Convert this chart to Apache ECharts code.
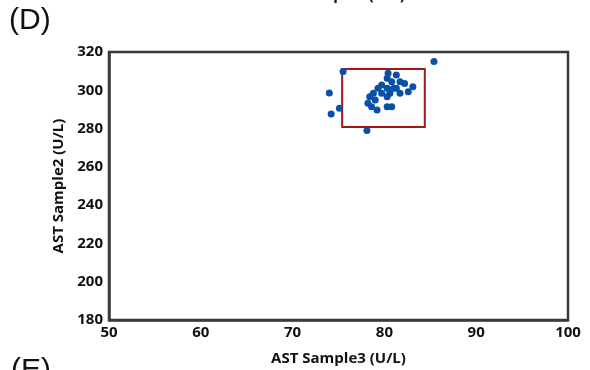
<!DOCTYPE html>
<html>
<head>
<meta charset="utf-8">
<script src="https://cdn.jsdelivr.net/npm/echarts@6/dist/echarts.min.js"></script>
<style>
  html, body { margin: 0; padding: 0; background: #fff; }
  #chart { width: 590px; height: 370px; }
</style>
</head>
<body>
<div id="chart"></div>
<script>
// AST values, sample3 (x) vs sample2 (y)
const sample3 = [85.4, 75.5, 74.0, 74.2, 75.1, 78.1,
  80.4, 81.3, 80.3, 80.8, 81.7, 82.2, 83.1, 82.6, 79.7, 79.3, 80.3, 81.0, 81.7,
  78.8, 78.4, 79.7, 79.0, 80.3, 80.6, 78.2, 78.6, 79.2, 80.3, 80.8, 81.3];
const sample2 = [315.0, 309.8, 298.6, 287.6, 290.6, 279.0,
  308.9, 308.0, 306.3, 304.5, 304.5, 303.6, 301.9, 299.3, 302.8, 301.0, 301.0, 301.0, 298.4,
  298.4, 296.6, 298.4, 294.9, 296.6, 298.4, 293.2, 291.4, 289.7, 291.4, 291.4, 301.0];

// highlighted region
const boxX = [75.4, 84.4];
const boxY = [280.8, 311.1];

const xTicks = [50, 100, 10];   // min, max, step
const yTicks = [180, 320, 20];

const points = sample3.map((x, i) => [x, sample2[i]]);

const chart = echarts.init(document.getElementById('chart'));
const labelFont = { fontFamily: 'Open Sans', fontWeight: 'bold', color: '#111' };

chart.setOption({
  animation: false,
  grid: {
    left: 109, right: 22, top: 52, bottom: 50,
    outerBoundsMode: 'none', containLabel: false,
    show: true, borderColor: '#3a3a3a', borderWidth: 2.5
  },
  xAxis: {
    type: 'value', min: xTicks[0], max: xTicks[1], interval: xTicks[2],
    name: 'AST Sample3 (U/L)', nameLocation: 'middle', nameGap: 31,
    nameTextStyle: { ...labelFont, fontSize: 15 },
    axisLine: { show: true, lineStyle: { color: '#3a3a3a', width: 2.5 } },
    axisTick: { show: false },
    splitLine: { show: false },
    axisLabel: { ...labelFont, fontSize: 15, margin: 5 }
  },
  yAxis: {
    type: 'value', min: yTicks[0], max: yTicks[1], interval: yTicks[2],
    name: 'AST Sample2 (U/L)', nameLocation: 'middle', nameGap: 43,
    nameTextStyle: { ...labelFont, fontSize: 15 },
    axisLine: { show: true, lineStyle: { color: '#3a3a3a', width: 2.5 } },
    axisTick: { show: false },
    splitLine: { show: false },
    axisLabel: { ...labelFont, fontSize: 15, margin: 6 }
  },
  series: [{
    type: 'scatter',
    data: points,
    symbolSize: 7,
    itemStyle: { color: '#0a50a8', opacity: 1 },
    markArea: {
      silent: true,
      itemStyle: { color: 'rgba(0,0,0,0)', borderColor: '#a01818', borderWidth: 2 },
      data: [[{ coord: [boxX[0], boxY[1]] }, { coord: [boxX[1], boxY[0]] }]]
    },
    z: 3
  }],
  graphic: [
    { type: 'text', left: 9, top: 6, style: { text: '(D)', fontFamily: 'Liberation Sans', fontSize: 30, fill: '#111' } },
    { type: 'text', left: 11, top: 356, style: { text: '(E)', fontFamily: 'Liberation Sans', fontSize: 30, fill: '#111' } },
    { type: 'text', left: 270, top: -12, style: { text: 'AST Sample3 (U/L)', fontFamily: 'Open Sans', fontWeight: 'bold', fontSize: 15, fill: '#111' } }
  ]
});
</script>
</body>
</html>
